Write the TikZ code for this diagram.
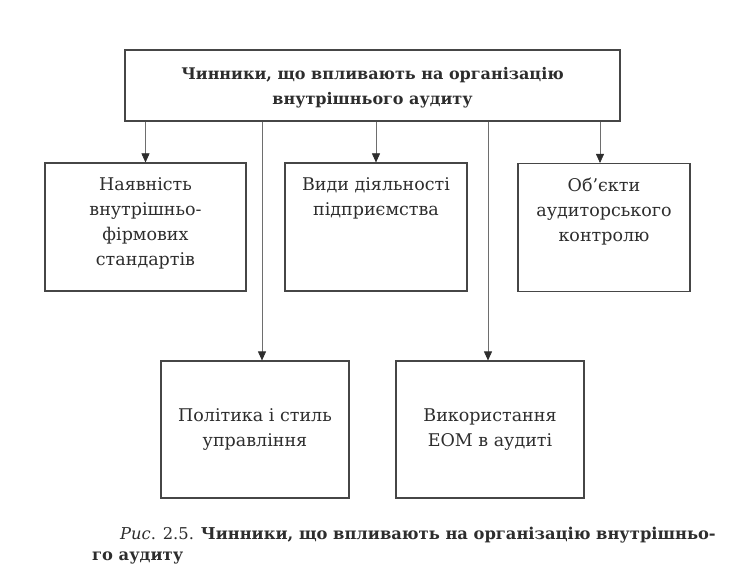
\documentclass[tikz,border=0pt]{standalone}
\usepackage{fontspec}
\setmainfont{DejaVu Serif}
\usepackage{tikz}
\usetikzlibrary{arrows.meta,positioning,calc}
\definecolor{inkc}{RGB}{45,45,45}
\definecolor{linec}{RGB}{70,70,70}
\definecolor{arrc}{RGB}{110,110,110}
\tikzset{
  factbox/.style={draw=linec, line width=1.1pt, inner sep=0pt, text=inkc},
  facttxt/.style={align=center, text=inkc, inner sep=0pt,
    font=\fontsize{17.5}{25}\selectfont},
  headtxt/.style={align=center, text=inkc, inner sep=0pt,
    font=\bfseries\fontsize{16}{25}\selectfont},
  captxt/.style={anchor=base west, text=inkc, inner sep=0pt,
    font=\fontsize{16.3}{21}\selectfont},
  feed/.style={-{Triangle[length=9pt,width=8pt,color=inkc]}, line width=0.6pt, arrc},
}

\begin{document}
\begin{tikzpicture}[x=1pt, y=1pt]
      \useasboundingbox (0,0) rectangle (730,587);
      % header box
      \node[factbox, minimum width=495pt, minimum height=71pt] (head) at (372.5,501.5) {};
      \node[headtxt] (headt) at (372.5,499.5) {Чинники, що впливають на організацію\\внутрішнього аудиту};
      % upper row of factors
      \node[factbox, minimum width=201pt, minimum height=128pt] (stand) at (145.5,360) {};
      \node[factbox, minimum width=182pt, minimum height=128pt] (vydy) at (376,360) {};
      \node[factbox, minimum width=172pt, minimum height=128pt] (obj) at (604,359.5) {};
      \node[facttxt, anchor=north] (standt) at ([yshift=-15pt]stand.north) {Наявність\\внутрішньо-\\фірмових\\стандартів};
      \node[facttxt, anchor=north] (vydyt) at ([yshift=-15pt]vydy.north) {Види діяльності\\підприємства};
      \node[facttxt, anchor=north] (objt) at ([yshift=-15pt]obj.north) {Об’єкти\\аудиторського\\контролю};
      % lower row of factors
      \node[factbox, minimum width=188pt, minimum height=137pt] (polit) at (255,157.5) {};
      \node[factbox, minimum width=188pt, minimum height=137pt] (eom) at (490,157.5) {};
      \node[facttxt] (politt) at (255,157) {Політика і стиль\\управління};
      \node[facttxt] (eomt) at (490,157) {Використання\\ЕОМ в аудиті};
      % arrows from header
      \draw[feed] (head.south -| stand.north) -- (stand.north);
      \draw[feed] (head.south -| vydy.north) -- (vydy.north);
      \draw[feed] ([xshift=-4pt]head.south -| obj.north) -- ([xshift=-4pt]obj.north);
      \draw[feed] ([xshift=7pt]head.south -| polit.north) -- ([xshift=7pt]polit.north);
      \draw[feed] ([xshift=-2pt]head.south -| eom.north) -- ([xshift=-2pt]eom.north);
      % caption
      \node[captxt] (cap1) at (120,48) {\textit{Рис}. 2.5. \textbf{Чинники, що впливають на організацію внутрішньо-}};
      \node[captxt] (cap2) at (92,27) {\textbf{го аудиту}};
    \end{tikzpicture}
\end{document}
